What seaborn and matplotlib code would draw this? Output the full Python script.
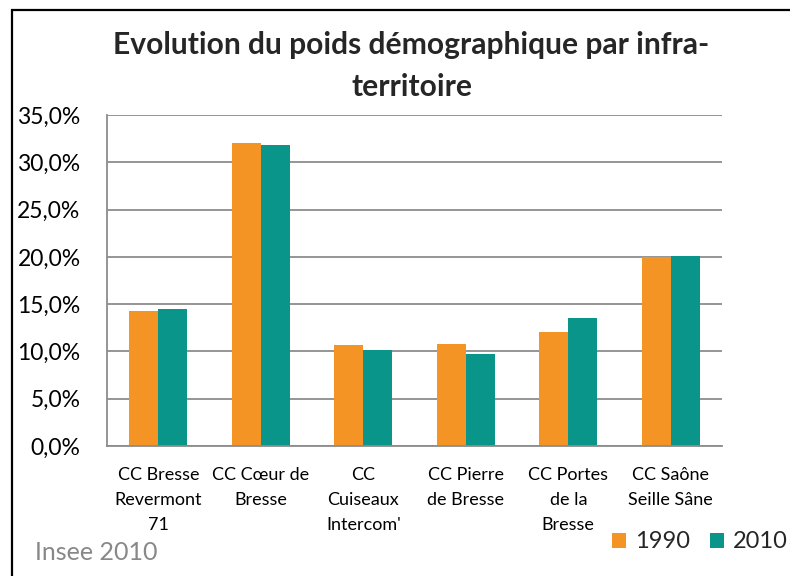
import pandas as pd
import numpy as np
import seaborn as sns
import matplotlib.pyplot as plt
from matplotlib.patches import Rectangle, Patch
from matplotlib.ticker import FuncFormatter

# data
territoires = ["CC Bresse\nRevermont\n71", "CC Cœur de\nBresse", "CC\nCuiseaux\nIntercom'",
               "CC Pierre\nde Bresse", "CC Portes\nde la\nBresse", "CC Saône\nSeille Sâne"]
annees = ["1990", "2010"]
poids_1990 = [14.3, 32.0, 10.7, 10.75, 12.05, 19.95]
poids_2010 = [14.5, 31.8, 10.2, 9.7, 13.5, 20.1]
couleurs = ["#F39425", "#0A958A"]

data = pd.DataFrame({
    "territoire": territoires * 2,
    "annee": [annees[0]] * len(territoires) + [annees[1]] * len(territoires),
    "poids": poids_1990 + poids_2010,
})

sns.set_style("white")
plt.rcParams["font.family"] = ["Lato", "DejaVu Sans"]

fig = plt.figure(figsize=(7.9, 5.76), dpi=100)
ax = fig.add_axes([107 / 790, 1 - 446 / 576, 615 / 790, 331 / 576])

sns.barplot(data=data, x="territoire", y="poids", hue="annee", palette=couleurs,
            width=0.57, gap=0, saturation=1, linewidth=0, ax=ax, legend=False)

ax.set_ylim(0, 35)
ax.set_yticks(np.arange(0, 35.1, 5))
ax.yaxis.set_major_formatter(FuncFormatter(lambda v, p: f"{v:.1f}".replace(".", ",") + "%"))
ax.grid(axis="y", color="#8c8c8c", lw=1.3)
ax.set_axisbelow(True)
ax.set_xlabel("")
ax.set_ylabel("")
for s in ["top", "right"]:
    ax.spines[s].set_visible(False)
for s in ["left", "bottom"]:
    ax.spines[s].set_color("#8c8c8c")
    ax.spines[s].set_linewidth(1.3)
ax.tick_params(axis="y", labelsize=16.5, pad=19, length=0, colors="black")
ax.tick_params(axis="x", labelsize=13, pad=15, length=0, colors="black")
for lab in ax.get_xticklabels():
    lab.set_linespacing(1.68)

fig.text(0.521, 1 - 66 / 576, "Evolution du poids démographique par infra-\nterritoire",
         ha="center", va="center", fontsize=21.6, fontweight="bold", linespacing=1.62)

fig.text(35 / 790, 1 - 553 / 576, "Insee 2010", fontsize=18, color="#888888",
         ha="left", va="center")

handles = [Patch(facecolor=c, edgecolor="none") for c in couleurs]
fig.legend(handles, annees, loc="center right", bbox_to_anchor=(1.0 - 2 / 790, 1 - 542 / 576),
           ncol=2, frameon=False, fontsize=17, handlelength=0.6, handleheight=0.6,
           handletextpad=0.38, columnspacing=0.85, borderaxespad=0, borderpad=0)

# chart frame
fig.patches.append(Rectangle((12 / 790, -0.1), 1.0, 1.1 - 10 / 576, transform=fig.transFigure,
                             fill=False, ec="black", lw=1.6))

fig.savefig("out.png", dpi=100)
